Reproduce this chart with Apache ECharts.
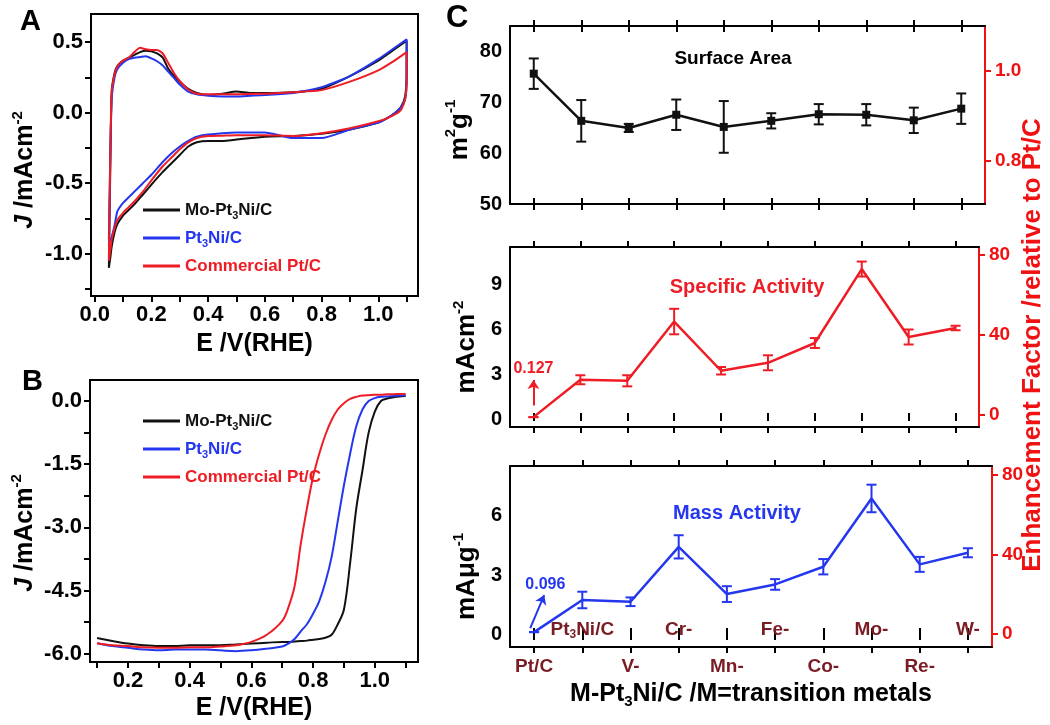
<!DOCTYPE html>
<html>
<head>
<meta charset="utf-8">
<title>M-Pt3Ni/C catalysts</title>
<script src="https://cdn.jsdelivr.net/npm/echarts@6/dist/echarts.min.js"></script>
<style>
  html, body { margin: 0; padding: 0; background: #fff; }
  #main { width: 1050px; height: 725px; }
</style>
</head>
<body>
<div id="main"></div>
<script>
// panel A - cyclic voltammograms (anodic sweep, then cathodic sweep)
var cvUpE = [0.05, 0.055, 0.06, 0.07, 0.08, 0.1, 0.12, 0.14, 0.16, 0.18, 0.2, 0.22, 0.24, 0.26, 0.28, 0.3, 0.33, 0.36, 0.4, 0.45, 0.5, 0.55, 0.6, 0.7, 0.8, 0.9, 1.0, 1.05, 1.1];
var cvDownE = [1.1, 1.095, 1.08, 1.06, 1.03, 1.0, 0.9, 0.8, 0.7, 0.6, 0.5, 0.45, 0.4, 0.36, 0.33, 0.3, 0.27, 0.24, 0.2, 0.17, 0.14, 0.12, 0.1, 0.08, 0.07, 0.06, 0.055, 0.05];
var cvMoUp = [-1.1, -0.4, 0.15, 0.28, 0.33, 0.37, 0.39, 0.41, 0.43, 0.44, 0.435, 0.42, 0.39, 0.31, 0.26, 0.22, 0.17, 0.14, 0.125, 0.135, 0.15, 0.14, 0.14, 0.145, 0.17, 0.26, 0.37, 0.44, 0.51];
var cvMoDown = [0.3, 0.12, 0.04, 0.0, -0.04, -0.07, -0.12, -0.15, -0.165, -0.17, -0.19, -0.2, -0.2, -0.21, -0.24, -0.3, -0.36, -0.42, -0.51, -0.58, -0.65, -0.69, -0.73, -0.79, -0.85, -0.95, -1.03, -1.1];
var cvNiUp = [-0.9, -0.3, 0.1, 0.25, 0.31, 0.355, 0.38, 0.39, 0.395, 0.4, 0.385, 0.365, 0.335, 0.29, 0.245, 0.2, 0.15, 0.13, 0.12, 0.115, 0.115, 0.12, 0.125, 0.14, 0.18, 0.26, 0.38, 0.45, 0.52];
var cvNiDown = [0.25, 0.1, 0.04, 0.0, -0.04, -0.07, -0.12, -0.18, -0.18, -0.14, -0.14, -0.145, -0.155, -0.17, -0.2, -0.24, -0.29, -0.35, -0.44, -0.5, -0.56, -0.6, -0.64, -0.7, -0.8, -0.88, -0.9, -0.92];
var cvPtUp = [-1.05, -0.3, 0.15, 0.27, 0.33, 0.37, 0.39, 0.43, 0.46, 0.45, 0.445, 0.445, 0.42, 0.35, 0.28, 0.225, 0.165, 0.135, 0.13, 0.13, 0.13, 0.133, 0.135, 0.145, 0.16, 0.22, 0.3, 0.36, 0.43];
var cvPtDown = [0.22, 0.1, 0.02, -0.01, -0.04, -0.06, -0.11, -0.145, -0.165, -0.16, -0.16, -0.163, -0.166, -0.18, -0.21, -0.26, -0.32, -0.38, -0.48, -0.56, -0.63, -0.67, -0.71, -0.76, -0.82, -0.9, -0.98, -1.05];

// panel B - ORR polarisation curves
var lsvE = [0.1, 0.15, 0.2, 0.25, 0.3, 0.35, 0.4, 0.45, 0.5, 0.55, 0.6, 0.65, 0.7, 0.72, 0.74, 0.76, 0.78, 0.8, 0.82, 0.84, 0.86, 0.88, 0.9, 0.92, 0.94, 0.96, 0.98, 1.0, 1.02, 1.04, 1.06, 1.08, 1.1];
var lsvMo = [-5.63, -5.7, -5.76, -5.8, -5.82, -5.82, -5.8, -5.8, -5.8, -5.78, -5.76, -5.74, -5.72, -5.72, -5.71, -5.7, -5.69, -5.67, -5.65, -5.62, -5.55, -5.3, -4.95, -3.85, -2.55, -1.65, -0.75, -0.25, 0.0, 0.06, 0.09, 0.11, 0.12];
var lsvNi = [-5.75, -5.82, -5.86, -5.9, -5.92, -5.9, -5.9, -5.9, -5.92, -5.94, -5.92, -5.88, -5.83, -5.76, -5.65, -5.47, -5.3, -5.05, -4.75, -4.3, -3.7, -2.85, -2.0, -1.25, -0.6, -0.2, 0.0, 0.07, 0.1, 0.11, 0.12, 0.13, 0.13];
var lsvPt = [-5.75, -5.8, -5.82, -5.85, -5.86, -5.86, -5.85, -5.85, -5.83, -5.8, -5.72, -5.55, -5.22, -4.9, -4.4, -3.4, -2.55, -1.8, -1.25, -0.8, -0.45, -0.2, -0.05, 0.05, 0.1, 0.13, 0.14, 0.15, 0.15, 0.16, 0.16, 0.17, 0.17];

var sampleNames = ['Mo-Pt3Ni/C', 'Pt3Ni/C', 'Commercial Pt/C'];

// panel C
var cats = ['Pt/C', 'Pt3Ni/C', 'V-', 'Cr-', 'Mn-', 'Fe-', 'Co-', 'Mo-', 'Re-', 'W-'];
var surfArea = [75.7, 66.4, 65.0, 67.6, 65.2, 66.4, 67.7, 67.6, 66.5, 68.8];
var surfErr = [3.0, 4.1, 0.8, 3.0, 5.1, 1.5, 2.0, 2.1, 2.5, 3.0];
var specAct = [0.127, 2.62, 2.55, 6.5, 3.22, 3.75, 5.07, 10.0, 5.47, 6.07];
var specErr = [0, 0.3, 0.37, 0.85, 0.25, 0.5, 0.33, 0.5, 0.5, 0.15];
var massAct = [0.096, 1.73, 1.64, 4.43, 2.03, 2.52, 3.42, 6.89, 3.54, 4.13];
var massErr = [0, 0.42, 0.22, 0.59, 0.4, 0.27, 0.39, 0.7, 0.38, 0.23];
// arrows pointing at the tiny Pt/C values: [category position, value] for tail and head
var specArrow = [[0, 0.9], [0, 2.6]];
var massArrow = [[-0.08, 0.3], [0.21, 1.98]];

var font = 'Liberation Sans';
var black = '#111111', blue = '#2437ef', red = '#ee1c24', wine = '#7a1c24', axisRed = '#f01212';

function pairs(xs, ys) {
  return xs.map(function (x, i) { return [x, ys[i]]; });
}
function withSub(s) { return s.replace('Pt3', 'Pt{s|3}'); }

function valueAxis(gi, min, max, labelVals, tickVals, digits, pos, color) {
  color = color || '#000';
  return {
    type: 'value', gridIndex: gi, position: pos, min: min, max: max,
    axisLine: { show: true, onZero: false, lineStyle: { color: color, width: 2 } },
    axisTick: { show: tickVals.length > 0, customValues: tickVals, length: 6, lineStyle: { color: color, width: 2 } },
    axisLabel: {
      customValues: labelVals, color: color, fontSize: 22, fontWeight: 'bold', fontFamily: font, margin: 8,
      formatter: function (v) { return Number(v).toFixed(digits); }
    },
    splitLine: { show: false }
  };
}

function catAxes(gi, withLabels) {
  var line = { show: true, onZero: false, lineStyle: { color: '#000', width: 2 } };
  function tick(inside) {
    return { show: true, inside: inside, length: 6, alignWithLabel: true, interval: 0, lineStyle: { color: '#000', width: 2 } };
  }
  function label(inside, odd) {
    if (!withLabels) return { show: false };
    return {
      show: true, inside: inside, margin: inside ? 6 : 9, interval: function (i) { return (i % 2 === 1) === odd; },
      color: wine, fontSize: 19, fontWeight: 'bold', fontFamily: font, lineHeight: 22,
      formatter: withSub,
      rich: { s: { fontSize: 12, fontWeight: 'bold', fontFamily: font, color: wine, verticalAlign: 'bottom' } }
    };
  }
  var base = function (pos, axisLine, t, l) {
    return { type: 'category', gridIndex: gi, data: cats, boundaryGap: true, position: pos,
      axisLine: axisLine, axisTick: t, axisLabel: l, splitLine: { show: false } };
  };
  return [
    base('bottom', line, tick(false), label(false, false)),
    base('bottom', { show: false }, tick(true), label(true, true)),
    base('top', line, tick(false), { show: false }),
    base('top', { show: false }, tick(true), { show: false })
  ];
}

function errorSeries(xi, yi, vals, errs, color) {
  return {
    type: 'custom', xAxisIndex: xi, yAxisIndex: yi, silent: true, z: 3,
    encode: { x: 0, y: 1 },
    data: vals.map(function (v, i) { return [i, v, errs[i]]; }),
    renderItem: function (params, api) {
      var i = api.value(0), v = api.value(1), e = api.value(2);
      var hi = api.coord([i, v + e]), lo = api.coord([i, v - e]);
      var st = { stroke: color, lineWidth: 2 };
      return { type: 'group', children: [
        { type: 'line', shape: { x1: hi[0], y1: hi[1], x2: lo[0], y2: lo[1] }, style: st },
        { type: 'line', shape: { x1: hi[0] - 5, y1: hi[1], x2: hi[0] + 5, y2: hi[1] }, style: st },
        { type: 'line', shape: { x1: lo[0] - 5, y1: lo[1], x2: lo[0] + 5, y2: lo[1] }, style: st }
      ] };
    }
  };
}

function arrowSeries(xi, yi, arrow, text, color) {
  return {
    type: 'line', xAxisIndex: xi, yAxisIndex: yi, data: [arrow[0]], showSymbol: false, symbol: 'none',
    lineStyle: { width: 0 }, silent: true, z: 5,
    markLine: { silent: true, symbol: ['none', 'arrow'], symbolSize: 9,
      lineStyle: { color: color, width: 2, type: 'solid' },
      label: { show: true, position: 'end', formatter: text, color: color, fontSize: 16, fontWeight: 'bold', fontFamily: font, distance: 3 },
      data: [[{ coord: arrow[0] }, { coord: arrow[1] }]] }
  };
}

var supRich = {
  p: { fontSize: 15, fontWeight: 'bold', fontFamily: font, verticalAlign: 'top' },
  i: { fontSize: 25, fontWeight: 'bold', fontStyle: 'italic', fontFamily: font }
};
function axisName(size, pad, color) {
  return { color: color || '#000', fontSize: size, fontWeight: 'bold', fontFamily: font, lineHeight: size + 6,
    padding: pad, rich: supRich };
}

// axes
var xA = valueAxis(0, -0.013, 1.14, [0, 0.2, 0.4, 0.6, 0.8, 1.0], [0, 0.1, 0.2, 0.3, 0.4, 0.5, 0.6, 0.7, 0.8, 0.9, 1.0, 1.1], 1, 'bottom');
xA.name = 'E /V(RHE)'; xA.nameLocation = 'middle'; xA.nameGap = 33; xA.nameTextStyle = axisName(25, 0);
var yA = valueAxis(0, -1.3, 0.7, [-1, -0.5, 0, 0.5], [-1.25, -1, -0.75, -0.5, -0.25, 0, 0.25, 0.5], 1, 'left');
yA.name = '{i|J} /mAcm{p|-2}'; yA.nameLocation = 'middle'; yA.nameGap = 50; yA.nameTextStyle = axisName(25, [0, 30, 0, 0]);

var xB = valueAxis(1, 0.077, 1.14, [0.2, 0.4, 0.6, 0.8, 1.0], [0.1, 0.2, 0.3, 0.4, 0.5, 0.6, 0.7, 0.8, 0.9, 1.0, 1.1], 1, 'bottom');
xB.name = 'E /V(RHE)'; xB.nameLocation = 'middle'; xB.nameGap = 30; xB.nameTextStyle = axisName(25, 0);
var yB = valueAxis(1, -6.2, 0.5, [-6, -4.5, -3, -1.5, 0], [-6, -5.25, -4.5, -3.75, -3, -2.25, -1.5, -0.75, 0], 1, 'left');
yB.name = '{i|J} /mAcm{p|-2}'; yB.nameLocation = 'middle'; yB.nameGap = 48; yB.nameTextStyle = axisName(25, [0, 24, 0, 0]);

var yC1 = valueAxis(2, 50, 85.1, [50, 60, 70, 80], [], 0, 'left');
yC1.axisLabel.fontSize = 20;
yC1.name = 'm{p|2}g{p|-1}'; yC1.nameLocation = 'middle'; yC1.nameGap = 27; yC1.nameTextStyle = axisName(26, [0, 30, 0, 0]);
var rC1 = valueAxis(2, 0.704, 1.1, [0.8, 1.0], [0.8, 1.0], 1, 'right', axisRed);
rC1.axisLabel.fontSize = 19; rC1.axisLabel.margin = 10;

var yC2 = valueAxis(3, -0.53, 11.47, [0, 3, 6, 9], [], 0, 'left');
yC2.axisLabel.fontSize = 20;
yC2.name = 'mAcm{p|-2}'; yC2.nameLocation = 'middle'; yC2.nameGap = 27; yC2.nameTextStyle = axisName(26, [0, 20, 0, 0]);
var rC2 = valueAxis(3, -6, 84, [0, 40, 80], [0, 40, 80], 0, 'right', axisRed);
rC2.axisLabel.fontSize = 19; rC2.axisLabel.margin = 10;
rC2.name = 'Enhancement Factor /relative to Pt/C'; rC2.nameLocation = 'middle'; rC2.nameGap = 38;
rC2.nameTextStyle = axisName(26, [0, 16, 0, 0], axisRed);

var yC3 = valueAxis(4, -0.66, 8.54, [0, 3, 6], [], 0, 'left');
yC3.axisLabel.fontSize = 20;
yC3.name = 'mA\u03bcg{p|-1}'; yC3.nameLocation = 'middle'; yC3.nameGap = 27; yC3.nameTextStyle = axisName(26, [0, 40, 0, 0]);
var rC3 = valueAxis(4, -6.5, 84.5, [0, 40, 80], [0, 40, 80], 0, 'right', axisRed);
rC3.axisLabel.fontSize = 19; rC3.axisLabel.margin = 10;

var xC1 = catAxes(2, false), xC2 = catAxes(3, false), xC3 = catAxes(4, true);
xC3[0].name = 'M-Pt{s|3}Ni/C /M=transition metals';
xC3[0].nameLocation = 'middle'; xC3[0].nameGap = 32;
xC3[0].nameTextStyle = { color: '#000', fontSize: 25, fontWeight: 'bold', fontFamily: font, lineHeight: 30,
  rich: { s: { fontSize: 15, fontWeight: 'bold', fontFamily: font, verticalAlign: 'bottom' } } };
// hidden continuous twin of the bottom category axis, used only to place the slanted arrow
var xC3Pos = { type: 'value', gridIndex: 4, min: -0.5, max: cats.length - 0.5, show: false, splitLine: { show: false } };

var colorsAB = [black, blue, red];
function legendFor(top) {
  return {
    left: 138, top: top, orient: 'vertical', itemWidth: 37, itemHeight: 3, itemGap: 6, icon: 'rect',
    selectedMode: false, formatter: withSub,
    textStyle: { fontSize: 17, fontWeight: 'bold', fontFamily: font, lineHeight: 22 },
    data: sampleNames.map(function (n, i) {
      return { name: n, textStyle: { color: colorsAB[i],
        rich: { s: { fontSize: 11, fontWeight: 'bold', fontFamily: font, color: colorsAB[i], verticalAlign: 'bottom' } } } };
    })
  };
}

var cvE = cvUpE.concat(cvDownE);
var cvJ = [cvMoUp.concat(cvMoDown), cvNiUp.concat(cvNiDown), cvPtUp.concat(cvPtDown)];
var lsvJ = [lsvMo, lsvNi, lsvPt];

var series = [];
sampleNames.forEach(function (n, i) {
  series.push({ type: 'line', name: n, xAxisIndex: 0, yAxisIndex: 0, color: colorsAB[i],
    data: pairs(cvE, cvJ[i]), showSymbol: false, symbol: 'none', smooth: 0.2,
    lineStyle: { width: 2 } });
});
sampleNames.forEach(function (n, i) {
  series.push({ type: 'line', name: n, xAxisIndex: 1, yAxisIndex: 1, color: colorsAB[i],
    data: pairs(lsvE, lsvJ[i]), showSymbol: false, symbol: 'none', smooth: 0.35,
    lineStyle: { width: 2 } });
});

// C top: surface area
series.push(errorSeries(2, 2, surfArea, surfErr, black));
series.push({ type: 'line', name: 'Surface Area', xAxisIndex: 2, yAxisIndex: 2, color: black,
  data: surfArea, symbol: 'rect', symbolSize: 8, lineStyle: { width: 2.5 }, z: 4 });

// C middle: specific activity
series.push(errorSeries(6, 4, specAct, specErr, red));
series.push({ type: 'line', name: 'Specific Activity', xAxisIndex: 6, yAxisIndex: 4, color: red,
  data: specAct, symbol: 'none', lineStyle: { width: 2.5 }, z: 4 });
series.push(arrowSeries(6, 4, specArrow, String(specAct[0]), red));

// C bottom: mass activity
series.push(errorSeries(10, 6, massAct, massErr, blue));
series.push({ type: 'line', name: 'Mass Activity', xAxisIndex: 10, yAxisIndex: 6, color: blue,
  data: massAct, symbol: 'none', lineStyle: { width: 2.5 }, z: 4 });
series.push(arrowSeries(14, 6, massArrow, String(massAct[0]), blue));

function txt(x, y, s, color, size, align, vAlign) {
  return { type: 'text', x: x, y: y, silent: true,
    style: { text: s, fill: color, font: 'bold ' + size + 'px "' + font + '"',
      align: align || 'center', verticalAlign: vAlign || 'middle',
      textAlign: align || 'center', textVerticalAlign: vAlign || 'middle' } };
}

var chart = echarts.init(document.getElementById('main'), null, { renderer: 'canvas' });
chart.setOption({
  animation: false,
  backgroundColor: '#ffffff',
  textStyle: { fontFamily: font, fontWeight: 'bold' },
  grid: [
    { left: 91, top: 14, width: 327, height: 282, show: true, borderColor: '#000', borderWidth: 2, backgroundColor: 'transparent' },
    { left: 90, top: 380, width: 328, height: 283, show: true, borderColor: '#000', borderWidth: 2, backgroundColor: 'transparent' },
    { left: 510, top: 26, width: 475, height: 178 },
    { left: 510, top: 247, width: 475, height: 180 },
    { left: 510, top: 466, width: 482, height: 181 }
  ],
  xAxis: [xA, xB].concat(xC1, xC2, xC3, [xC3Pos]),
  yAxis: [yA, yB, yC1, rC1, yC2, rC2, yC3, rC3],
  legend: [legendFor(194), legendFor(405)],
  series: series,
  graphic: [
    txt(20, 7, 'A', '#000', 29, 'left', 'top'),
    txt(22, 367, 'B', '#000', 29, 'left', 'top'),
    txt(446, 3, 'C', '#000', 31, 'left', 'top'),
    txt(733, 59, 'Surface Area', '#000', 19),
    txt(747, 287, 'Specific Activity', red, 20),
    txt(737, 513, 'Mass Activity', blue, 20)
  ]
});
</script>
</body>
</html>
